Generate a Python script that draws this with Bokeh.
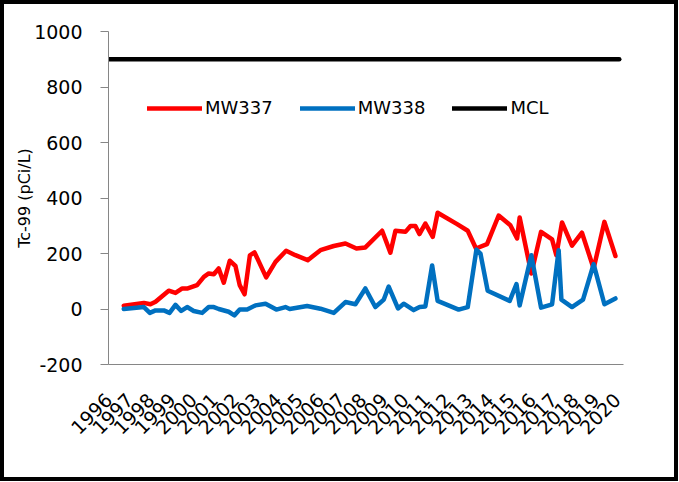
import math
from bokeh.plotting import figure
from bokeh.models import (Range1d, FixedTicker, Legend, LegendItem,
                          PrintfTickFormatter)
from bokeh.embed import file_html
from bokeh.resources import INLINE

# ---- data (decimal years, pCi/L) ----
years_mw337 = [1996.72, 1997.67, 1997.98, 1998.22, 1998.84, 1999.16, 1999.48, 1999.74,
               2000.18, 2000.50, 2000.73, 2000.97, 2001.20, 2001.44, 2001.72, 2001.99,
               2002.19, 2002.42, 2002.67, 2002.89, 2003.44, 2003.88, 2004.38, 2004.82,
               2005.40, 2006.00, 2006.63, 2007.18, 2007.70, 2008.12, 2008.91, 2009.30,
               2009.54, 2010.01, 2010.25, 2010.48, 2010.67, 2010.95, 2011.30, 2011.53,
               2012.45, 2012.95, 2013.34, 2013.86, 2014.41, 2014.96, 2015.28, 2015.40,
               2015.95, 2016.41, 2016.93, 2017.13, 2017.40, 2017.87, 2018.34, 2018.89,
               2019.40, 2019.92]
mw337 = [12, 22, 17, 26, 66, 58, 74, 74,
         86, 116, 128, 125, 146, 95, 174, 155,
         86, 53, 193, 204, 114, 170, 210, 194,
         176, 212, 227, 236, 218, 222, 282, 203,
         282, 278, 299, 299, 270, 308, 260, 347,
         306, 282, 218, 234, 337, 302, 254, 330,
         128, 278, 251, 194, 312, 228, 275, 146,
         314, 191]

years_mw338 = [1996.72, 1997.67, 1997.95, 1998.22, 1998.61, 1998.88, 1999.16, 1999.43,
               1999.71, 2000.02, 2000.42, 2000.73, 2000.97, 2001.20, 2001.67, 2001.94,
               2002.19, 2002.54, 2002.93, 2003.41, 2003.92, 2004.35, 2004.55, 2005.37,
               2006.00, 2006.63, 2007.18, 2007.65, 2008.12, 2008.59, 2008.99, 2009.22,
               2009.66, 2009.93, 2010.40, 2010.68, 2010.95, 2011.27, 2011.53, 2012.52,
               2012.95, 2013.36, 2013.55, 2013.89, 2014.93, 2015.25, 2015.40, 2015.95,
               2016.41, 2016.93, 2017.24, 2017.37, 2017.87, 2018.39, 2018.89, 2019.40,
               2019.92]
mw338 = [0, 7, -14, -5, -5, -14, 15, -7,
         7, -7, -14, 7, 7, 0, -10, -23,
         -2, -2, 13, 19, -2, 7, 0, 11,
         1, -14, 25, 17, 74, 7, 34, 81,
         2, 19, -4, 7, 9, 157, 29, -2,
         7, 214, 200, 66, 29, 90, 13, 194,
         5, 17, 212, 34, 7, 34, 162, 17,
         38]

mcl_years = [1996.0, 2020.1]
mcl = [900, 900]

year_ticks = list(range(1996, 2021))
y_ticks = [-200, 0, 200, 400, 600, 800, 1000]

FONT = "DejaVu Sans"
W, H = 678, 481

p = figure(width=W, height=H, output_backend="svg", toolbar_location=None,
           x_range=Range1d(1996.0, 2020.3), y_range=Range1d(-200, 1000),
           min_border_left=104, min_border_right=59, min_border_top=27,
           min_border_bottom=121)
p.styles = {"border": "4px solid black"}
p.outline_line_color = None
p.xgrid.grid_line_color = None
p.ygrid.grid_line_color = None
p.background_fill_color = "white"
p.border_fill_color = "white"

r1 = p.line(years_mw337, mw337, line_color="#FF0000", line_width=4.5, line_join="round", line_cap="round")
r2 = p.line(years_mw338, mw338, line_color="#0070C0", line_width=4.5, line_join="round", line_cap="round")
r3 = p.line(mcl_years, mcl, line_color="black", line_width=4.5, line_cap="round")

# axes
p.yaxis.ticker = FixedTicker(ticks=y_ticks)
p.yaxis.formatter = PrintfTickFormatter(format="%d")
p.yaxis.axis_line_color = "#868686"
p.yaxis.major_tick_line_color = "#868686"
p.yaxis.major_tick_out = 8
p.yaxis.major_tick_in = 0
p.yaxis.minor_tick_line_color = None
p.yaxis.major_label_text_font = FONT
p.yaxis.major_label_text_font_size = "19px"
p.yaxis.major_label_text_color = "black"
p.yaxis.major_label_standoff = 18
p.yaxis.axis_label = "Tc-99 (pCi/L)"
p.yaxis.axis_label_text_font = FONT
p.yaxis.axis_label_text_font_size = "16px"
p.yaxis.axis_label_text_font_style = "normal"
p.yaxis.axis_label_text_color = "black"
p.yaxis.axis_label_standoff = -3

p.xaxis.ticker = FixedTicker(ticks=year_ticks)
p.xaxis.axis_line_color = "#868686"
p.xaxis.major_tick_line_color = None
p.xaxis.minor_tick_line_color = None
p.xaxis.major_label_orientation = math.pi / 4
p.xaxis.major_label_text_font = FONT
p.xaxis.major_label_text_font_size = "19px"
p.xaxis.major_label_text_color = "black"
p.xaxis.major_label_standoff = 26

legend = Legend(items=[LegendItem(label="MW337", renderers=[r1]),
                       LegendItem(label="MW338", renderers=[r2]),
                       LegendItem(label="MCL", renderers=[r3])],
                orientation="horizontal", location=(39, 246),
                glyph_width=55, glyph_height=20, label_height=20,
                label_standoff=3, spacing=27, padding=0, margin=0,
                border_line_color=None, background_fill_alpha=0,
                label_text_font=FONT, label_text_font_size="18px",
                label_text_color="black")
p.add_layout(legend)

open("out.html", "w").write(file_html(p, INLINE))
